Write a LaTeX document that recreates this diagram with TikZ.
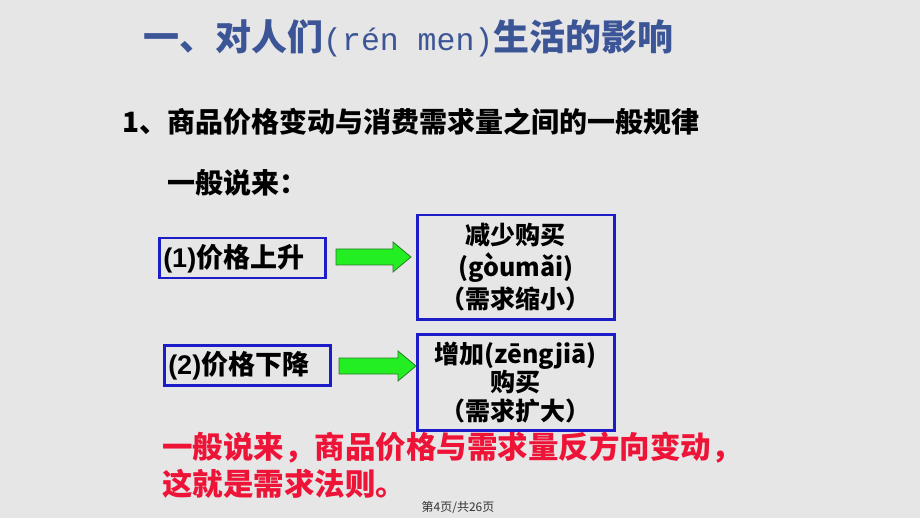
\documentclass[tikz,border=0pt]{standalone}
\usepackage{fontspec}
\setmainfont{Noto Sans CJK SC}
\newfontfamily\monofnt{Liberation Mono}
\newfontfamily\numfnt{Liberation Sans}
\definecolor{bg}{HTML}{E7E6E7}
\definecolor{titleblue}{HTML}{3C5597}
\definecolor{boxblue}{HTML}{1C1CC8}
\definecolor{arrgreen}{HTML}{22EE22}
\definecolor{arredge}{HTML}{2E7A2E}
\definecolor{lawred}{HTML}{EE1438}
\tikzset{
  txt/.style={inner sep=0, anchor=west, font=\bfseries\fontsize{28}{33}\selectfont},
  pricebox/.style={draw=boxblue, line width=2.5pt, inner xsep=4pt, inner ysep=0pt,
    text width=158pt, align=left, minimum height=40pt, anchor=north west,
    font=\bfseries\fontsize{27}{32}\selectfont},
  resbox/.style={draw=boxblue, line width=2.5pt, inner sep=0pt,
    text width=197pt, align=center, anchor=north west,
    font=\bfseries\fontsize{25}{32}\selectfont},
  garrow/.style={fill=arrgreen, draw=arredge, line width=0.8pt, line join=miter}
}
\begin{document}
\begin{tikzpicture}[x=1pt,y=-1pt]
\fill[bg] (0,0) rectangle (920,518);
\useasboundingbox (0,0) rectangle (920,518);

\node[txt, text=titleblue, font=\bfseries\fontsize{36}{40}\selectfont] (title) at (143,38)
  {一、对人们{\monofnt\mdseries\fontsize{31.5}{36}\selectfont(rén men)}生活的影响};

\node[txt] (rule) at (122,122) {1、商品价格变动与消费需求量之间的一般规律};
\node[txt] (general) at (167,183) {一般说来：};

\node[pricebox] (p1) at (158,237) {{\numfnt (1)}价格上升};
\node[resbox, minimum height=104pt] (r1) at (416,214)
  {减少购买\\(gòumǎi)\\（需求缩小）};

\node[pricebox] (p2) at (163,344) {{\numfnt (2)}价格下降};
\node[resbox, minimum height=96pt, font=\bfseries\fontsize{25}{28.5}\selectfont] (r2) at (416,333)
  {增加(zēngjiā)\\购买\\（需求扩大）};

\coordinate (a1) at (336,257);
\draw[garrow] (a1) ++(0,-8) -- ++(57,0) -- ++(0,-7) -- ++(18,15) -- ++(-18,15) -- ++(0,-7) -- ++(-57,0) -- cycle;
\coordinate (a2) at (339,366);
\draw[garrow] (a2) ++(0,-8) -- ++(59,0) -- ++(0,-7) -- ++(18,15) -- ++(-18,15) -- ++(0,-7) -- ++(-59,0) -- cycle;

\node[txt, text=lawred, font=\bfseries\fontsize{30.5}{36}\selectfont] (law1) at (162,448)
  {一般说来，商品价格与需求量反方向变动，};
\node[txt, text=lawred, font=\bfseries\fontsize{30.5}{36}\selectfont] (law2) at (162,484)
  {这就是需求法则。};

\node[inner sep=0, text=black!80, font=\fontsize{12}{14}\selectfont] (footer) at (458,508)
  {第4页/共26页};
\end{tikzpicture}
\end{document}
